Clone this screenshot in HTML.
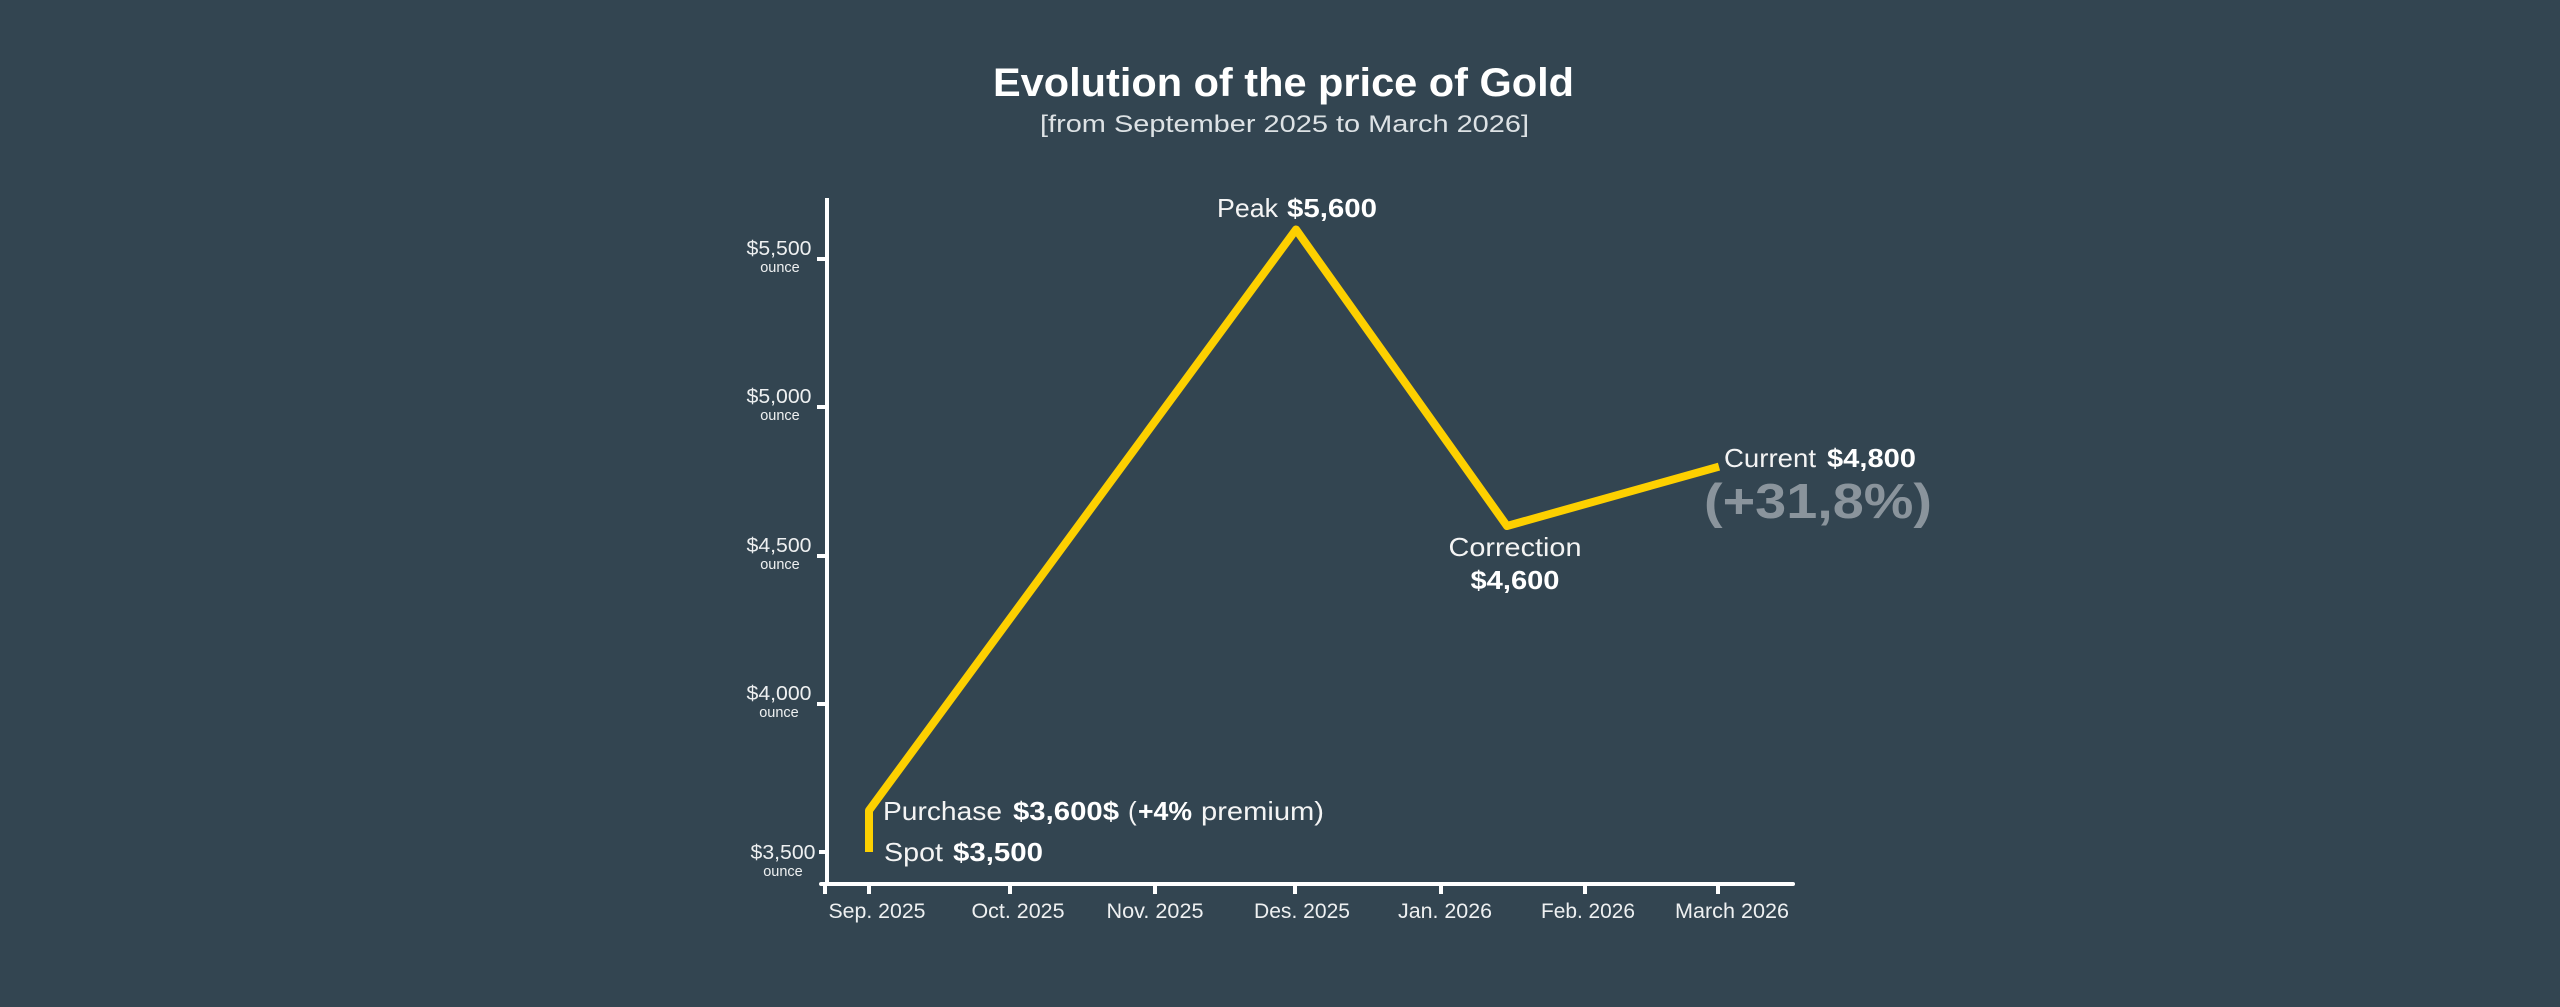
<!DOCTYPE html>
<html>
<head>
<meta charset="utf-8">
<style>
  html, body { margin: 0; padding: 0; background: #334551; }
  body { width: 2560px; height: 1007px; overflow: hidden; }
  svg { display: block; }
  text { font-family: "Liberation Sans", sans-serif; }
</style>
</head>
<body>
<svg width="2560" height="1007" viewBox="0 0 2560 1007" xmlns="http://www.w3.org/2000/svg">
  <rect x="0" y="0" width="2560" height="1007" fill="#334551"/>

  <!-- Title -->
  <text x="993" y="96" font-size="40" font-weight="bold" fill="#ffffff" textLength="581" lengthAdjust="spacingAndGlyphs">Evolution of the price of Gold</text>
  <text x="1040" y="132" font-size="24" fill="#dde2e5" textLength="489" lengthAdjust="spacingAndGlyphs">[from September 2025 to March 2026]</text>

  <!-- Axes -->
  <line x1="827" y1="198" x2="827" y2="886" stroke="#ffffff" stroke-width="4"/>
  <line x1="821" y1="884" x2="1793" y2="884" stroke="#ffffff" stroke-width="4" stroke-linecap="round"/>

  <!-- Y ticks -->
  <g stroke="#ffffff" stroke-width="4">
    <line x1="817" y1="259" x2="827" y2="259"/>
    <line x1="817" y1="407" x2="827" y2="407"/>
    <line x1="817" y1="556" x2="827" y2="556"/>
    <line x1="817" y1="704" x2="827" y2="704"/>
    <line x1="819" y1="852" x2="827" y2="852"/>
  </g>

  <!-- X ticks -->
  <g stroke="#ffffff" stroke-width="4">
    <line x1="825" y1="884" x2="825" y2="894"/>
    <line x1="869" y1="884" x2="869" y2="894"/>
    <line x1="1010" y1="884" x2="1010" y2="894"/>
    <line x1="1155" y1="884" x2="1155" y2="894"/>
    <line x1="1295" y1="884" x2="1295" y2="894"/>
    <line x1="1441" y1="884" x2="1441" y2="894"/>
    <line x1="1585" y1="884" x2="1585" y2="894"/>
    <line x1="1718" y1="884" x2="1718" y2="894"/>
  </g>

  <!-- Y labels -->
  <g fill="#eef0f1" text-anchor="middle">
    <text x="779" y="255" font-size="20" textLength="65" lengthAdjust="spacingAndGlyphs">$5,500</text>
    <text x="780" y="272" font-size="14.5">ounce</text>
    <text x="779" y="403" font-size="20" textLength="65" lengthAdjust="spacingAndGlyphs">$5,000</text>
    <text x="780" y="420" font-size="14.5">ounce</text>
    <text x="779" y="552" font-size="20" textLength="65" lengthAdjust="spacingAndGlyphs">$4,500</text>
    <text x="780" y="569" font-size="14.5">ounce</text>
    <text x="779" y="700" font-size="20" textLength="65" lengthAdjust="spacingAndGlyphs">$4,000</text>
    <text x="779" y="717" font-size="14.5">ounce</text>
    <text x="783" y="859" font-size="20" textLength="65" lengthAdjust="spacingAndGlyphs">$3,500</text>
    <text x="783" y="876" font-size="14.5">ounce</text>
  </g>

  <!-- X labels -->
  <g fill="#eef0f1" text-anchor="middle" font-size="21">
    <text x="877" y="918" textLength="97" lengthAdjust="spacingAndGlyphs">Sep. 2025</text>
    <text x="1018" y="918" textLength="93" lengthAdjust="spacingAndGlyphs">Oct. 2025</text>
    <text x="1155" y="918" textLength="97" lengthAdjust="spacingAndGlyphs">Nov. 2025</text>
    <text x="1302" y="918" textLength="96" lengthAdjust="spacingAndGlyphs">Des. 2025</text>
    <text x="1445" y="918" textLength="94" lengthAdjust="spacingAndGlyphs">Jan. 2026</text>
    <text x="1588" y="918" textLength="94" lengthAdjust="spacingAndGlyphs">Feb. 2026</text>
    <text x="1732" y="918" textLength="114" lengthAdjust="spacingAndGlyphs">March 2026</text>
  </g>

  <!-- Gold line -->
  <polyline points="869,852 869,810.5 1296,229.5 1507,526 1719,466.6" fill="none" stroke="#fdd000" stroke-width="8" stroke-linejoin="round" stroke-linecap="butt"/>

  <!-- Annotations -->
  <g fill="#f4f4f4" font-size="26">
    <!-- Peak -->
    <text x="1217" y="217" textLength="61" lengthAdjust="spacingAndGlyphs">Peak</text>
    <text x="1287" y="217" font-weight="bold" fill="#ffffff" textLength="90" lengthAdjust="spacingAndGlyphs">$5,600</text>

    <!-- Purchase -->
    <text x="883" y="820" textLength="119" lengthAdjust="spacingAndGlyphs">Purchase</text>
    <text x="1013" y="820" font-weight="bold" fill="#ffffff" textLength="106" lengthAdjust="spacingAndGlyphs">$3,600$</text>
    <text x="1128" y="820">(</text>
    <text x="1138" y="820" font-weight="bold" fill="#ffffff" textLength="54" lengthAdjust="spacingAndGlyphs">+4%</text>
    <text x="1201" y="820" textLength="123" lengthAdjust="spacingAndGlyphs">premium)</text>

    <!-- Spot -->
    <text x="884" y="861" textLength="59" lengthAdjust="spacingAndGlyphs">Spot</text>
    <text x="953" y="861" font-weight="bold" fill="#ffffff" textLength="90" lengthAdjust="spacingAndGlyphs">$3,500</text>

    <!-- Correction -->
    <text x="1515" y="556" text-anchor="middle" textLength="133" lengthAdjust="spacingAndGlyphs">Correction</text>
    <text x="1515" y="589" text-anchor="middle" font-weight="bold" fill="#ffffff" textLength="89" lengthAdjust="spacingAndGlyphs">$4,600</text>

    <!-- Current -->
    <text x="1724" y="467" textLength="92" lengthAdjust="spacingAndGlyphs">Current</text>
    <text x="1827" y="467" font-weight="bold" fill="#ffffff" textLength="89" lengthAdjust="spacingAndGlyphs">$4,800</text>
  </g>

  <text x="1704" y="518" font-size="49" font-weight="bold" fill="#8a949c" textLength="228" lengthAdjust="spacingAndGlyphs">(+31,8%)</text>
</svg>
</body>
</html>
